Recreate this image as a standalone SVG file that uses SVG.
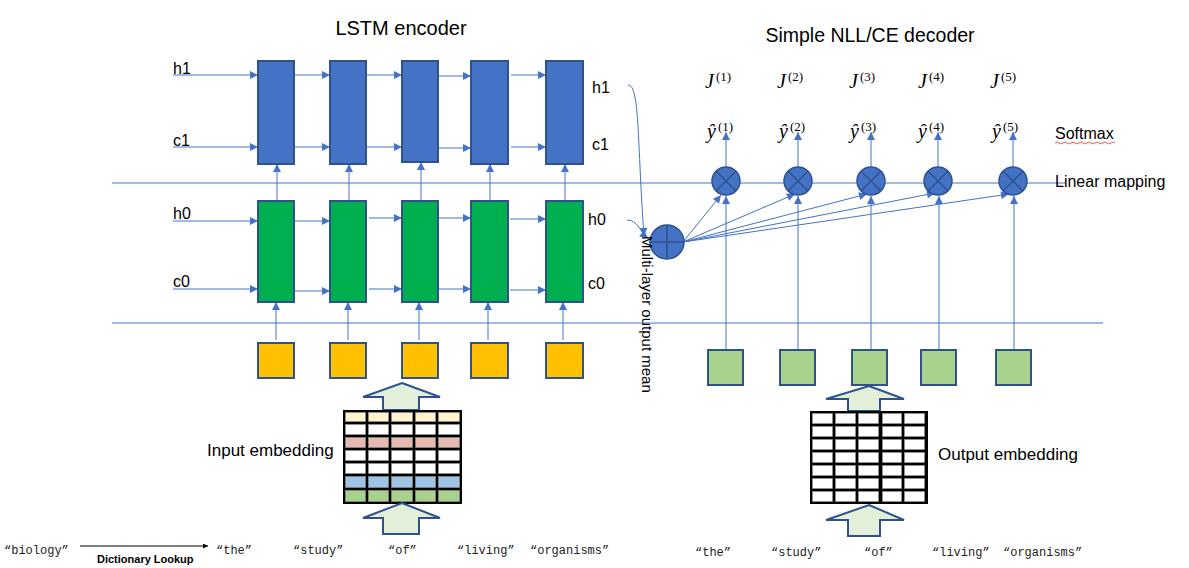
<svg xmlns="http://www.w3.org/2000/svg" width="1189" height="568" viewBox="0 0 1189 568">
<style>
.t{font-family:"Liberation Sans",Arial,sans-serif;fill:#000}
.m{font-family:"Liberation Mono","DejaVu Sans Mono",monospace;font-size:12px;fill:#222}
.ln{stroke:#4472C4;stroke-width:1;fill:none}
.lstm1{fill:#4472C4;stroke:#2F528F;stroke-width:2}
.lstm0{fill:#00B050;stroke:#2F528F;stroke-width:2}
.inp{fill:#FFC000;stroke:#2F528F;stroke-width:2}
.outp{fill:#A9D18E;stroke:#2F528F;stroke-width:2}
.circ{fill:#4472C4;stroke:#2F528F;stroke-width:1.5}
.cx{stroke:#2F528F;stroke-width:1.5}
.big{fill:#E2F0D9;stroke:#2F528F;stroke-width:2}
.math{font-family:"Liberation Serif","Times New Roman",serif;fill:#000}
.J{font-size:20px;font-style:italic}
.sup{font-size:13px}
</style>
<defs>
<marker id="ah" viewBox="0 0 10 10" refX="10" refY="5" markerWidth="9" markerHeight="8" markerUnits="userSpaceOnUse" orient="auto"><path d="M0,0 L10,5 L0,10 z" fill="#4472C4"/></marker>
<marker id="ak" viewBox="0 0 10 10" refX="10" refY="5" markerWidth="6" markerHeight="5" markerUnits="userSpaceOnUse" orient="auto"><path d="M0,0 L10,5 L0,10 z" fill="#000"/></marker>
</defs>

<text class="t" x="401" y="35" font-size="20" text-anchor="middle">LSTM encoder</text>
<text class="t" x="870" y="42" font-size="19.5" text-anchor="middle">Simple NLL/CE decoder</text>

<g id="connectors">
<line class="ln" x1="112" y1="183" x2="1065" y2="183"/>
<line class="ln" x1="112" y1="323" x2="1103" y2="323"/>
<line class="ln" x1="173" y1="75" x2="258" y2="75" marker-end="url(#ah)"/>
<line class="ln" x1="173" y1="147" x2="258" y2="147" marker-end="url(#ah)"/>
<line class="ln" x1="173" y1="221" x2="258" y2="221" marker-end="url(#ah)"/>
<line class="ln" x1="173" y1="289" x2="258" y2="289" marker-end="url(#ah)"/>
<line class="ln" x1="295" y1="75" x2="330" y2="75" marker-end="url(#ah)"/>
<line class="ln" x1="367" y1="75" x2="402" y2="75" marker-end="url(#ah)"/>
<line class="ln" x1="439" y1="76" x2="471" y2="76" marker-end="url(#ah)"/>
<line class="ln" x1="511" y1="75" x2="546" y2="75" marker-end="url(#ah)"/>
<line class="ln" x1="295" y1="147" x2="330" y2="147" marker-end="url(#ah)"/>
<line class="ln" x1="367" y1="147" x2="402" y2="147" marker-end="url(#ah)"/>
<line class="ln" x1="439" y1="148" x2="471" y2="148" marker-end="url(#ah)"/>
<line class="ln" x1="511" y1="147" x2="546" y2="147" marker-end="url(#ah)"/>
<line class="ln" x1="295" y1="221" x2="330" y2="221" marker-end="url(#ah)"/>
<line class="ln" x1="369" y1="218" x2="402" y2="218" marker-end="url(#ah)"/>
<line class="ln" x1="438" y1="218" x2="471" y2="218" marker-end="url(#ah)"/>
<line class="ln" x1="510" y1="219" x2="546" y2="219" marker-end="url(#ah)"/>
<line class="ln" x1="295" y1="291" x2="330" y2="291" marker-end="url(#ah)"/>
<line class="ln" x1="369" y1="289" x2="402" y2="289" marker-end="url(#ah)"/>
<line class="ln" x1="438" y1="289" x2="471" y2="289" marker-end="url(#ah)"/>
<line class="ln" x1="510" y1="290" x2="546" y2="290" marker-end="url(#ah)"/>
<line class="ln" x1="277" y1="201" x2="277" y2="164" marker-end="url(#ah)"/>
<line class="ln" x1="349" y1="201" x2="349" y2="164" marker-end="url(#ah)"/>
<line class="ln" x1="421" y1="201" x2="421" y2="162" marker-end="url(#ah)"/>
<line class="ln" x1="490" y1="201" x2="490" y2="164" marker-end="url(#ah)"/>
<line class="ln" x1="565" y1="201" x2="565" y2="164" marker-end="url(#ah)"/>
<line class="ln" x1="276" y1="340" x2="276" y2="302" marker-end="url(#ah)"/>
<line class="ln" x1="348" y1="340" x2="348" y2="302" marker-end="url(#ah)"/>
<line class="ln" x1="419" y1="340" x2="419" y2="302" marker-end="url(#ah)"/>
<line class="ln" x1="488" y1="340" x2="488" y2="302" marker-end="url(#ah)"/>
<line class="ln" x1="563" y1="340" x2="563" y2="302" marker-end="url(#ah)"/>
<path class="ln" d="M628,85 C640,85 637,140 644,236" marker-end="url(#ah)"/>
<path class="ln" d="M627,220 C638,220 640,232 648,238" marker-end="url(#ah)"/>
<line class="ln" x1="683" y1="242" x2="721" y2="195" marker-end="url(#ah)"/>
<line class="ln" x1="683" y1="242" x2="795" y2="194" marker-end="url(#ah)"/>
<line class="ln" x1="683" y1="242" x2="867" y2="194" marker-end="url(#ah)"/>
<line class="ln" x1="683" y1="242" x2="935" y2="193" marker-end="url(#ah)"/>
<line class="ln" x1="683" y1="242" x2="1009" y2="194" marker-end="url(#ah)"/>
<line class="ln" x1="726" y1="350" x2="726" y2="196" marker-end="url(#ah)"/>
<line class="ln" x1="798" y1="350" x2="798" y2="196" marker-end="url(#ah)"/>
<line class="ln" x1="871" y1="350" x2="871" y2="196" marker-end="url(#ah)"/>
<line class="ln" x1="939" y1="350" x2="939" y2="196" marker-end="url(#ah)"/>
<line class="ln" x1="1014" y1="350" x2="1014" y2="196" marker-end="url(#ah)"/>
<line class="ln" x1="726" y1="167" x2="726" y2="132" marker-end="url(#ah)"/>
<line class="ln" x1="798" y1="167" x2="798" y2="132" marker-end="url(#ah)"/>
<line class="ln" x1="871" y1="167" x2="871" y2="132" marker-end="url(#ah)"/>
<line class="ln" x1="938" y1="167" x2="938" y2="132" marker-end="url(#ah)"/>
<line class="ln" x1="1013" y1="167" x2="1013" y2="132" marker-end="url(#ah)"/>
<line x1="80" y1="546" x2="208" y2="546" stroke="#000" stroke-width="1" marker-end="url(#ak)"/>
</g>

<g id="labels-left">
<text class="t" x="173" y="74" font-size="16">h1</text>
<text class="t" x="173" y="146" font-size="16">c1</text>
<text class="t" x="173" y="219" font-size="16">h0</text>
<text class="t" x="173" y="287" font-size="16">c0</text>
<text class="t" x="592" y="93" font-size="16">h1</text>
<text class="t" x="592" y="150" font-size="16">c1</text>
<text class="t" x="588" y="225" font-size="16">h0</text>
<text class="t" x="588" y="289" font-size="16">c0</text>
</g>

<g id="lstm-layer1">
<rect class="lstm1" x="258" y="61" width="36" height="103"/>
<rect class="lstm1" x="330" y="61" width="36" height="103"/>
<rect class="lstm1" x="402" y="61" width="36" height="101"/>
<rect class="lstm1" x="471" y="61" width="37" height="103"/>
<rect class="lstm1" x="546" y="61" width="37" height="103"/>
</g>
<g id="lstm-layer0">
<rect class="lstm0" x="258" y="201" width="36" height="101"/>
<rect class="lstm0" x="330" y="201" width="36" height="101"/>
<rect class="lstm0" x="402" y="201" width="36" height="101"/>
<rect class="lstm0" x="471" y="201" width="37" height="101"/>
<rect class="lstm0" x="546" y="201" width="37" height="101"/>
</g>
<g id="input-tokens">
<rect class="inp" x="258" y="343" width="36" height="35"/>
<rect class="inp" x="330" y="343" width="36" height="35"/>
<rect class="inp" x="402" y="343" width="36" height="35"/>
<rect class="inp" x="471" y="343" width="37" height="35"/>
<rect class="inp" x="546" y="343" width="37" height="35"/>
</g>

<g id="mean-node">
<circle class="circ" cx="667" cy="242" r="17"/>
<line class="cx" x1="650" y1="242" x2="684" y2="242"/>
<line class="cx" x1="667" y1="225" x2="667" y2="259"/>
<text class="t" x="0" y="0" font-size="15" transform="translate(642,236) rotate(90)">Multi-layer output mean</text>
</g>

<g id="linear-nodes">
<g><circle class="circ" cx="726" cy="181" r="14"/><path class="cx" d="M716,171 L736,191 M736,171 L716,191"/></g>
<g><circle class="circ" cx="798" cy="181" r="14"/><path class="cx" d="M788,171 L808,191 M808,171 L788,191"/></g>
<g><circle class="circ" cx="871" cy="181" r="14"/><path class="cx" d="M861,171 L881,191 M881,171 L861,191"/></g>
<g><circle class="circ" cx="938" cy="181" r="14"/><path class="cx" d="M928,171 L948,191 M948,171 L928,191"/></g>
<g><circle class="circ" cx="1013" cy="181" r="14"/><path class="cx" d="M1003,171 L1023,191 M1023,171 L1003,191"/></g>
</g>

<g id="output-tokens">
<rect class="outp" x="708" y="350" width="35" height="35"/>
<rect class="outp" x="780" y="350" width="35" height="35"/>
<rect class="outp" x="852" y="350" width="35" height="35"/>
<rect class="outp" x="921" y="350" width="35" height="35"/>
<rect class="outp" x="996" y="350" width="35" height="35"/>
</g>

<g id="math-labels">
<g><text class="math J" x="705" y="88">J</text><text class="math sup" x="716" y="81">(1)</text></g>
<g><text class="math J" x="777" y="88">J</text><text class="math sup" x="788" y="81">(2)</text></g>
<g><text class="math J" x="849" y="88">J</text><text class="math sup" x="860" y="81">(3)</text></g>
<g><text class="math J" x="918" y="88">J</text><text class="math sup" x="929" y="81">(4)</text></g>
<g><text class="math J" x="990" y="88">J</text><text class="math sup" x="1001" y="81">(5)</text></g>
<g><text class="math J" x="707" y="138">y&#770;</text><text class="math sup" x="718" y="131">(1)</text></g>
<g><text class="math J" x="779" y="138">y&#770;</text><text class="math sup" x="790" y="131">(2)</text></g>
<g><text class="math J" x="850" y="138">y&#770;</text><text class="math sup" x="861" y="131">(3)</text></g>
<g><text class="math J" x="918" y="138">y&#770;</text><text class="math sup" x="929" y="131">(4)</text></g>
<g><text class="math J" x="992" y="138">y&#770;</text><text class="math sup" x="1003" y="131">(5)</text></g>
</g>

<g id="side-labels">
<text class="t" x="1055" y="139" font-size="16">Softmax</text>
<path d="M1055,143 q2,-2 4,0 t4,0 t4,0 t4,0 t4,0 t4,0 t4,0 t4,0 t4,0 t4,0 t4,0 t4,0 t4,0 t4,0 t4,0" stroke="#E03030" stroke-width="0.8" fill="none"/>
<text class="t" x="1055" y="187" font-size="16">Linear mapping</text>
</g>

<g id="input-embedding">
<text class="t" x="207" y="456" font-size="17">Input embedding</text>
<polygon class="big" points="402,383 440,397 419,397 419,410 383,410 383,397 363,397"/>
<rect x="343" y="410" width="119" height="94" fill="#000"/>
<g stroke="#999" stroke-width="0.6">
<rect x="345.5" y="412.5" width="20" height="9" fill="#FFF2CC"/><rect x="368.5" y="412.5" width="20" height="9" fill="#FFF2CC"/><rect x="391.5" y="412.5" width="21" height="9" fill="#FFF2CC"/><rect x="415.5" y="412.5" width="20" height="9" fill="#FFF2CC"/><rect x="438.5" y="412.5" width="21" height="9" fill="#FFF2CC"/>
<rect x="345.5" y="424.5" width="20" height="10" fill="#fff"/><rect x="368.5" y="424.5" width="20" height="10" fill="#fff"/><rect x="391.5" y="424.5" width="21" height="10" fill="#fff"/><rect x="415.5" y="424.5" width="20" height="10" fill="#fff"/><rect x="438.5" y="424.5" width="21" height="10" fill="#fff"/>
<rect x="345.5" y="437.5" width="20" height="10" fill="#E6B9B0"/><rect x="368.5" y="437.5" width="20" height="10" fill="#E6B9B0"/><rect x="391.5" y="437.5" width="21" height="10" fill="#E6B9B0"/><rect x="415.5" y="437.5" width="20" height="10" fill="#E6B9B0"/><rect x="438.5" y="437.5" width="21" height="10" fill="#E6B9B0"/>
<rect x="345.5" y="450.5" width="20" height="10" fill="#fff"/><rect x="368.5" y="450.5" width="20" height="10" fill="#fff"/><rect x="391.5" y="450.5" width="21" height="10" fill="#fff"/><rect x="415.5" y="450.5" width="20" height="10" fill="#fff"/><rect x="438.5" y="450.5" width="21" height="10" fill="#fff"/>
<rect x="345.5" y="463.5" width="20" height="10" fill="#fff"/><rect x="368.5" y="463.5" width="20" height="10" fill="#fff"/><rect x="391.5" y="463.5" width="21" height="10" fill="#fff"/><rect x="415.5" y="463.5" width="20" height="10" fill="#fff"/><rect x="438.5" y="463.5" width="21" height="10" fill="#fff"/>
<rect x="345.5" y="476.5" width="20" height="11" fill="#9DC3E6"/><rect x="368.5" y="476.5" width="20" height="11" fill="#9DC3E6"/><rect x="391.5" y="476.5" width="21" height="11" fill="#9DC3E6"/><rect x="415.5" y="476.5" width="20" height="11" fill="#9DC3E6"/><rect x="438.5" y="476.5" width="21" height="11" fill="#9DC3E6"/>
<rect x="345.5" y="490.5" width="20" height="11" fill="#A9D18E"/><rect x="368.5" y="490.5" width="20" height="11" fill="#A9D18E"/><rect x="391.5" y="490.5" width="21" height="11" fill="#A9D18E"/><rect x="415.5" y="490.5" width="20" height="11" fill="#A9D18E"/><rect x="438.5" y="490.5" width="21" height="11" fill="#A9D18E"/>
</g>
<polygon class="big" points="402,503 440,518 419,518 419,534 383,534 383,518 363,518"/>
</g>

<g id="output-embedding">
<text class="t" x="938" y="460" font-size="17">Output embedding</text>
<polygon class="big" points="869,386 904,399 880,399 880,411 848,411 848,399 826,399"/>
<rect x="810" y="411" width="118" height="93" fill="#000"/>
<g fill="#fff" stroke="#999" stroke-width="0.6">
<rect x="812.5" y="413.5" width="20" height="10"/><rect x="835.5" y="413.5" width="20" height="10"/><rect x="858.5" y="413.5" width="20" height="10"/><rect x="882.5" y="413.5" width="19" height="10"/><rect x="904.5" y="413.5" width="20" height="10"/>
<rect x="812.5" y="426.5" width="20" height="10"/><rect x="835.5" y="426.5" width="20" height="10"/><rect x="858.5" y="426.5" width="20" height="10"/><rect x="882.5" y="426.5" width="19" height="10"/><rect x="904.5" y="426.5" width="20" height="10"/>
<rect x="812.5" y="439.5" width="20" height="10"/><rect x="835.5" y="439.5" width="20" height="10"/><rect x="858.5" y="439.5" width="20" height="10"/><rect x="882.5" y="439.5" width="19" height="10"/><rect x="904.5" y="439.5" width="20" height="10"/>
<rect x="812.5" y="452.5" width="20" height="10"/><rect x="835.5" y="452.5" width="20" height="10"/><rect x="858.5" y="452.5" width="20" height="10"/><rect x="882.5" y="452.5" width="19" height="10"/><rect x="904.5" y="452.5" width="20" height="10"/>
<rect x="812.5" y="465.5" width="20" height="10"/><rect x="835.5" y="465.5" width="20" height="10"/><rect x="858.5" y="465.5" width="20" height="10"/><rect x="882.5" y="465.5" width="19" height="10"/><rect x="904.5" y="465.5" width="20" height="10"/>
<rect x="812.5" y="478.5" width="20" height="10"/><rect x="835.5" y="478.5" width="20" height="10"/><rect x="858.5" y="478.5" width="20" height="10"/><rect x="882.5" y="478.5" width="19" height="10"/><rect x="904.5" y="478.5" width="20" height="10"/>
<rect x="812.5" y="491.5" width="20" height="10"/><rect x="835.5" y="491.5" width="20" height="10"/><rect x="858.5" y="491.5" width="20" height="10"/><rect x="882.5" y="491.5" width="19" height="10"/><rect x="904.5" y="491.5" width="20" height="10"/>
</g>
<polygon class="big" points="869,505 904,520 880,520 880,536 848,536 848,520 826,520"/>
</g>

<g id="words">
<text class="m" x="4" y="554">“biology”</text>
<text x="97" y="563" font-family="'Liberation Sans Narrow','Liberation Sans',Arial,sans-serif" font-size="11" font-weight="bold" fill="#000">Dictionary Lookup</text>
<text class="m" x="216" y="554">“the”</text>
<text class="m" x="293" y="554">“study”</text>
<text class="m" x="388" y="554">“of”</text>
<text class="m" x="457" y="554">“living”</text>
<text class="m" x="530" y="554">“organisms”</text>
<text class="m" x="695" y="556">“the”</text>
<text class="m" x="771" y="556">“study”</text>
<text class="m" x="864" y="556">“of”</text>
<text class="m" x="932" y="556">“living”</text>
<text class="m" x="1003" y="556">“organisms”</text>
</g>
</svg>
